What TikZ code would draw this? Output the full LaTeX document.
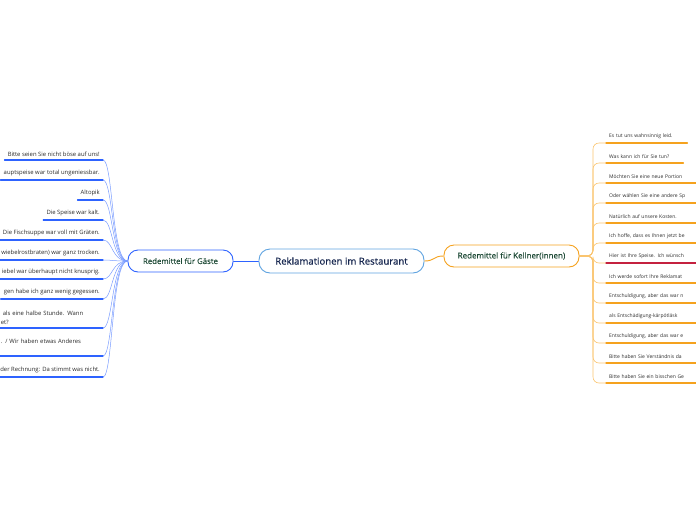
\documentclass[tikz,border=0pt]{standalone}
\usepackage{fontspec}
\setmainfont{Open Sans}
\newfontfamily\mainnodefont{Open Sans}[FakeBold=0.5]
\definecolor{rootblue}{HTML}{5FA3E0}
\definecolor{rootink}{HTML}{16264F}
\definecolor{gblue}{HTML}{2E63FF}
\definecolor{glight}{HTML}{7A9CFF}
\definecolor{gink}{HTML}{1E4A36}
\definecolor{korange}{HTML}{F5A21E}
\definecolor{klight}{HTML}{FAC46E}
\definecolor{kred}{HTML}{C4213F}
\definecolor{leafink}{HTML}{2B2B2B}
\tikzset{
  root/.style={draw=rootblue,line width=.9pt,fill=white,rounded corners=11pt,minimum width=165pt,minimum height=24pt,text=rootink,font=\mainnodefont\fontsize{9.6}{10}\selectfont},
  gmain/.style={draw=gblue,line width=.9pt,fill=white,rounded corners=10pt,minimum width=105pt,minimum height=22pt,text=gink,font=\mainnodefont\fontsize{7.8}{8}\selectfont},
  kmain/.style={draw=korange,line width=.9pt,fill=white,rounded corners=10pt,minimum width=135pt,minimum height=22pt,text=gink,font=\mainnodefont\fontsize{8}{8}\selectfont},
  gleaf/.style={anchor=south east,inner xsep=3pt,inner ysep=3.5pt,text=leafink,font=\fontsize{5.9}{8.8}\selectfont},
  kleaf/.style={anchor=south west,inner xsep=3pt,inner ysep=4.5pt,text=leafink,align=left,text width=#1,font=\fontsize{5}{6}\selectfont},
  kleaf/.default=100pt,
  glink/.style={glight,line width=.5pt},
  gline/.style={gblue,line width=1.3pt},
  klink/.style={klight,line width=.6pt,rounded corners=6pt},
  kline/.style={korange,line width=1.3pt}}
\begin{document}
\begin{tikzpicture}[x=1pt,y=-1pt,line cap=round,line join=round]
 \useasboundingbox (0,0) rectangle (696,520);
 % Mitte
 \node[root] (root) at (341.5,261) {Reklamationen im Restaurant};
 \node[gmain] (gaeste) at (180.5,261) {Redemittel für Gäste};
 \node[kmain] (kellner) at (511.5,256) {Redemittel für Kellner(innen)};
 \draw[gblue,line width=.6pt] (root.west) -- (gaeste.east);
 \draw[korange,line width=.9pt] (root.east) .. controls +(11,0) and +(-11,0) .. (kellner.west);
 % Gäste
 \foreach \n/\y/\t in {1/160/{Bitte seien Sie nicht böse auf uns!},2/180/{auptspeise war total ungeniessbar.},
   3/200/{Altopik},4/220/{Die Speise war kalt.},5/240/{Die Fischsuppe war voll mit Gräten.},
   6/260/{wiebelrostbraten) war ganz trocken.},7/279/{iebel war überhaupt nicht knusprig.},
   8/299/{gen habe ich ganz wenig gegessen.},11/377/{der Rechnung: Da stimmt was nicht.}}
  \node[gleaf] (g\n) at (103,\y) {\t};
 \node[gleaf,align=left,text width=99pt] (g9) at (103,328) {\ als eine halbe Stunde. Wann\\et?};
 \node[gleaf,align=left,text width=99pt] (g10) at (103,356) {. / Wir haben etwas Anderes\\\mbox{}};
 \foreach \n in {1,...,11} {
  \draw[glink] (gaeste.west) .. controls +(-16,0) and +(10,0) .. (g\n.south east);
  \draw[gline] (g\n.south west) -- (g\n.south east);
 }
 % Kellner
 \coordinate (ktrunk) at (593,256);
 \node[kleaf=75pt] (k1) at (606,143) {Es tut uns wahnsinnig leid.};
 \node[kleaf=71pt] (k2) at (606,163) {Was kann ich für Sie tun?};
 \foreach \n/\y/\t in {3/183/{Möchten Sie eine neue Portion},4/203/{Oder wählen Sie eine andere Sp},
   5/223/{Natürlich auf unsere Kosten.},6/243/{Ich hoffe, dass es Ihnen jetzt be},
   7/263/{Hier ist Ihre Speise. Ich wünsch},8/283/{Ich werde sofort Ihre Reklamat},
   9/303/{Entschuldigung, aber das war n},10/323/{als Entschädigung-kárpótlásk},
   11/343/{Entschuldigung, aber das war e},12/363/{Bitte haben Sie Verständnis da},
   13/383/{Bitte haben Sie ein bisschen Ge}}
  \node[kleaf] (k\n) at (606,\y) {\t};
 \foreach \n in {1,...,13}
  \draw[klink] (kellner.east) -- (ktrunk) |- (k\n.south west);
 \foreach \n in {1,...,6,8,9,10,11,12,13}
  \draw[kline] (k\n.south west) -- (k\n.south east);
 \draw[kline,kred] (k7.south west) -- (k7.south east);
\end{tikzpicture}
\end{document}
